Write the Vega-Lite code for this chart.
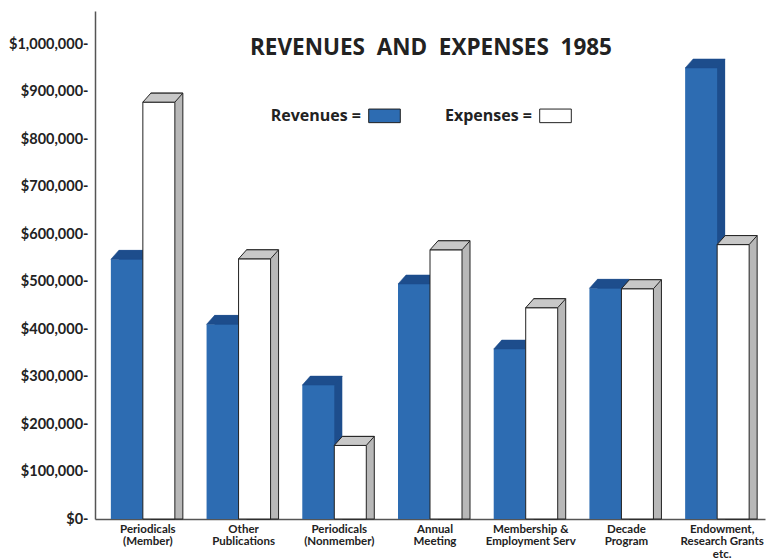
{
  "$schema": "https://vega.github.io/schema/vega-lite/v6.json",
  "width": 670,
  "height": 508,
  "autosize": {"type": "none"},
  "padding": {"left": 95, "top": 11, "right": 1, "bottom": 40},
  "background": "white",
  "config": {"view": {"stroke": null}, "font": "Lato"},
  "title": {
    "text": "REVENUES\u00a0\u00a0AND\u00a0\u00a0EXPENSES\u00a0\u00a01985",
    "anchor": "middle",
    "frame": "group",
    "orient": "top",
    "offset": 0,
    "baseline": "alphabetic",
    "dy": 66,
    "dx": 1,
    "fontSize": 22.5,
    "fontWeight": "bold",
    "color": "#222222",
    "font": "Open Sans"
  },
  "data": {
    "values": [
      {"category": "Periodicals|(Member)", "series": "Revenues", "amount": 547000},
      {"category": "Periodicals|(Member)", "series": "Expenses", "amount": 878000},
      {"category": "Other|Publications", "series": "Revenues", "amount": 410000},
      {"category": "Other|Publications", "series": "Expenses", "amount": 548000},
      {"category": "Periodicals|(Nonmember)", "series": "Revenues", "amount": 282000},
      {"category": "Periodicals|(Nonmember)", "series": "Expenses", "amount": 155000},
      {"category": "Annual|Meeting", "series": "Revenues", "amount": 495000},
      {"category": "Annual|Meeting", "series": "Expenses", "amount": 567000},
      {"category": "Membership &|Employment Serv", "series": "Revenues", "amount": 358000},
      {"category": "Membership &|Employment Serv", "series": "Expenses", "amount": 445000},
      {"category": "Decade|Program", "series": "Revenues", "amount": 486000},
      {"category": "Decade|Program", "series": "Expenses", "amount": 485000},
      {"category": "Endowment,|Research Grants|etc.", "series": "Revenues", "amount": 950000},
      {"category": "Endowment,|Research Grants|etc.", "series": "Expenses", "amount": 578000}
    ]
  },
  "encoding": {
    "x": {
      "field": "category",
      "type": "nominal",
      "sort": null,
      "scale": {"paddingInner": 0, "paddingOuter": 0},
      "axis": {
        "title": null,
        "labelAngle": 0,
        "labelExpr": "split(datum.label, '|')",
        "labelFont": "Lato",
        "labelFontSize": 11.5,
        "labelFontWeight": "bold",
        "labelColor": "#222222",
        "labelLineHeight": 12.5,
        "labelOffset": 5,
        "labelPadding": 4,
        "labelBaseline": "top",
        "ticks": false,
        "domainColor": "#555555",
        "domainWidth": 1.5
      }
    },
    "y": {
      "field": "amount",
      "type": "quantitative",
      "stack": null,
      "scale": {"domain": [0, 1070000], "nice": false},
      "axis": {
        "title": null,
        "values": [0, 100000, 200000, 300000, 400000, 500000, 600000, 700000, 800000, 900000, 1000000],
        "labelExpr": "'$' + format(datum.value, ',') + '-'",
        "labelFont": "Lato",
        "labelFontSize": 14.5,
        "labelFontWeight": "bold",
        "labelColor": "#222222",
        "labelPadding": 7,
        "ticks": false,
        "grid": false,
        "domainColor": "#555555",
        "domainWidth": 1.5
      }
    }
  },
  "layer": [
    {
      "transform": [{"filter": "datum.series === 'Revenues'"}],
      "mark": {"type": "bar", "width": 32, "xOffset": -8, "yOffset": -9, "y2Offset": 0, "color": "#1d4d8c"}
    },
    {
      "transform": [{"filter": "datum.series === 'Revenues'"}],
      "mark": {"type": "bar", "width": 32, "xOffset": -16},
      "encoding": {
        "color": {
          "field": "series",
          "type": "nominal",
          "scale": {"domain": ["Revenues", "Expenses"], "range": ["#2d6cb2", "#ffffff"]},
          "legend": {
            "orient": "none",
            "legendX": 273,
            "legendY": 88,
            "direction": "horizontal",
            "title": null,
            "symbolType": "M-1,-0.43L1,-0.43L1,0.43L-1,0.43Z",
            "symbolSize": 1000,
            "symbolStrokeColor": "#222222",
            "symbolStrokeWidth": 1,
            "symbolOpacity": 1,
            "labelAlign": "right",
            "labelOffset": -40,
            "labelFont": "Open Sans",
            "labelFontSize": 16,
            "labelFontWeight": "bold",
            "labelColor": "#222222",
            "labelExpr": "datum.label + ' ='",
            "columnPadding": 42,
            "labelLimit": 200
          }
        }
      }
    },
    {
      "transform": [{"filter": "datum.series === 'Revenues'"}],
      "mark": {"type": "point", "shape": "M-32,0L-24,-9L8,-9L0,0Z", "size": 4, "filled": true, "opacity": 1, "fill": "#1d4d8c", "stroke": "#1d4d8c", "strokeWidth": 0.5}
    },
    {
      "transform": [{"filter": "datum.series === 'Expenses'"}],
      "mark": {"type": "bar", "width": 32, "xOffset": 24, "yOffset": -9, "y2Offset": 0, "fill": "#b8b8b8", "stroke": "#222222", "strokeWidth": 1}
    },
    {
      "transform": [{"filter": "datum.series === 'Expenses'"}],
      "mark": {"type": "bar", "width": 32, "xOffset": 16, "stroke": "#222222", "strokeWidth": 1},
      "encoding": {
        "color": {"field": "series", "type": "nominal"}
      }
    },
    {
      "transform": [{"filter": "datum.series === 'Expenses'"}],
      "mark": {"type": "point", "shape": "M0,0L8,-9L40,-9L32,0Z", "size": 4, "filled": true, "opacity": 1, "fill": "#c8c8c8", "stroke": "#222222", "strokeWidth": 1}
    }
  ]
}
